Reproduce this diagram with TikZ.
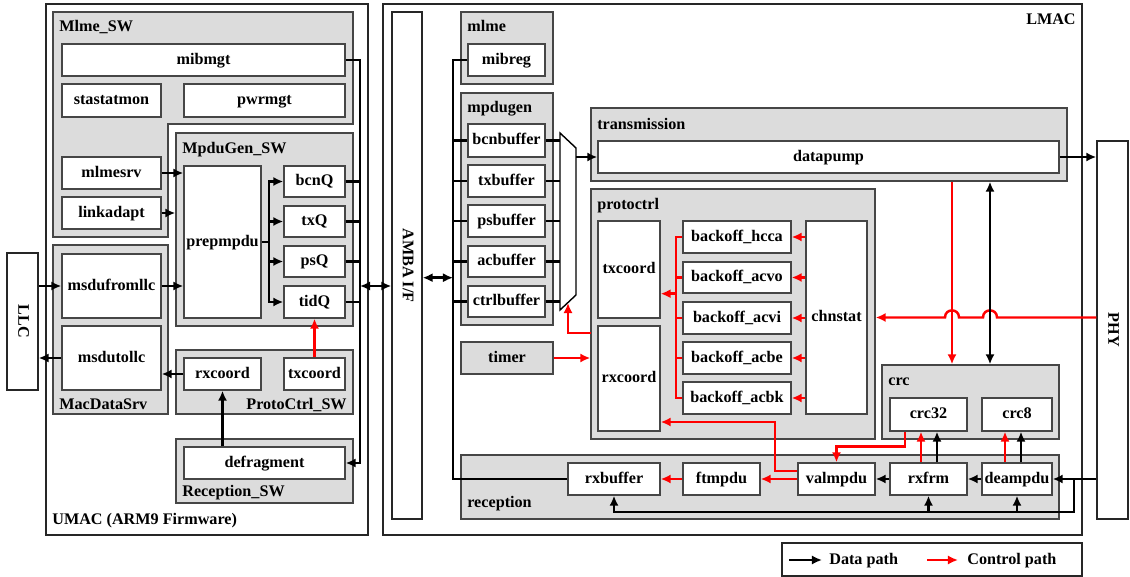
\documentclass[tikz,border=0pt]{standalone}
\usepackage{fontspec}
\setmainfont{Liberation Serif}
\usetikzlibrary{arrows.meta,fit,calc}
\definecolor{boxgray}{RGB}{220,220,220}
\definecolor{edgegray}{RGB}{70,70,70}
\definecolor{ctrlred}{RGB}{255,0,0}
\tikzset{
  txt/.style={font=\fontsize{9.2}{11}\selectfont\bfseries, inner sep=0pt},
  lab/.style={txt, text height=0.68em, text depth=0.2em},
  gbox/.style={draw=edgegray, fill=boxgray, line width=0.8pt, inner sep=0pt},
  wbox/.style={draw=edgegray, fill=white, line width=0.8pt, inner sep=0pt},
  obox/.style={draw=black!85, fill=white, line width=0.8pt, inner sep=0pt},
  conn/.style={draw=black, line width=1.4pt},
  data/.style={conn, -{Latex[length=5.7pt,width=5.2pt]}},
  ddata/.style={conn, {Latex[length=5.7pt,width=5.2pt]}-{Latex[length=5.7pt,width=5.2pt]}},
  cline/.style={draw=ctrlred, line width=1.4pt},
  ctrl/.style={cline, -{Latex[length=5.7pt,width=5.2pt]}},
}
\begin{document}
\begin{tikzpicture}[x=0.02cm,y=-0.02cm]
\useasboundingbox (0,0) rectangle (1130,577);

% ================= UMAC =================
\node[obox, fit={(46,4)(368,535)}] (umac) {};
\node[txt, anchor=base west] (umaclbl) at (52,525) {UMAC (ARM9 Firmware)};

\draw[gbox] (53,12) -- (353,12) -- (353,124) -- (168,124) -- (168,237) -- (53,237) -- cycle;
\node[txt, anchor=base west] (mlmeswlbl) at (59,32) {Mlme\_SW};
\node[wbox, fit={(62,44)(345,76)}, label={[lab]center:mibmgt}] (mibmgt) {};
\node[wbox, fit={(62,84)(161,117)}, label={[lab]center:stastatmon}] (stastatmon) {};
\node[wbox, fit={(184,84)(345,117)}, label={[lab]center:pwrmgt}] (pwrmgt) {};
\node[wbox, fit={(62,157)(161,189)}, label={[lab]center:mlmesrv}] (mlmesrv) {};
\node[wbox, fit={(62,197)(161,229)}, label={[lab]center:linkadapt}] (linkadapt) {};

\node[gbox, fit={(176,133)(353,326)}] (mpdugensw) {};
\node[txt, anchor=base west] (mpdugenswlbl) at (182,154) {MpduGen\_SW};
\node[wbox, fit={(184,166)(261,318)}, label={[lab]center:prepmpdu}] (prepmpdu) {};
\node[wbox, fit={(284,166)(345,197)}, label={[lab]center:bcnQ}] (bcnQ) {};
\node[wbox, fit={(284,206)(345,237)}, label={[lab]center:txQ}] (txQ) {};
\node[wbox, fit={(284,246)(345,277)}, label={[lab]center:psQ}] (psQ) {};
\node[wbox, fit={(284,286)(345,318)}, label={[lab]center:tidQ}] (tidQ) {};

\node[gbox, fit={(53,245)(168,414)}] (macdatasrv) {};
\node[txt, anchor=base west] (macdatalbl) at (59,410) {MacDataSrv};
\node[wbox, fit={(62,254)(161,318)}, label={[lab]center:msdufromllc}] (msdufromllc) {};
\node[wbox, fit={(62,326)(161,390)}, label={[lab]center:msdutollc}] (msdutollc) {};

\node[gbox, fit={(176,350)(353,414)}] (protoctrlsw) {};
\node[txt, anchor=base east] (protoctrlswlbl) at (347,410) {ProtoCtrl\_SW};
\node[wbox, fit={(184,358)(261,390)}, label={[lab]center:rxcoord}] (rxcoordsw) {};
\node[wbox, fit={(284,358)(345,390)}, label={[lab]center:txcoord}] (txcoordsw) {};

\node[gbox, fit={(176,439)(353,503)}] (receptionsw) {};
\node[txt, anchor=base west] (receptionswlbl) at (182,497) {Reception\_SW};
\node[wbox, fit={(184,447)(345,479)}, label={[lab]center:defragment}] (defragment) {};

\node[obox, fit={(7,253)(38,390)}] (llc) {};
\node[lab, rotate=-90] (llclbl) at (llc.center) {LLC};

% ================= LMAC =================
\node[obox, fit={(383,4)(1082,535)}] (lmac) {};
\node[txt, anchor=base east] (lmaclbl) at (1076,25) {LMAC};
\node[obox, fit={(392,12)(422,519)}] (amba) {};
\node[lab, rotate=-90] (ambalbl) at (amba.center) {AMBA I/F};

\node[gbox, fit={(461,12)(553,84)}] (mlme) {};
\node[txt, anchor=base west] (mlmelbl) at (467,32) {mlme};
\node[wbox, fit={(468,44)(545,76)}, label={[lab]center:mibreg}] (mibreg) {};

\node[gbox, fit={(461,93)(553,325)}] (mpdugen) {};
\node[txt, anchor=base west] (mpdugenlbl) at (467,113) {mpdugen};
\node[wbox, fit={(468,124)(545,157)}, label={[lab]center:bcnbuffer}] (bcnbuffer) {};
\node[wbox, fit={(468,165)(545,197)}, label={[lab]center:txbuffer}] (txbuffer) {};
\node[wbox, fit={(468,205)(545,237)}, label={[lab]center:psbuffer}] (psbuffer) {};
\node[wbox, fit={(468,246)(545,277)}, label={[lab]center:acbuffer}] (acbuffer) {};
\node[wbox, fit={(468,286)(545,317)}, label={[lab]center:ctrlbuffer}] (ctrlbuffer) {};

\node[gbox, fit={(461,342)(553,374)}, label={[lab]center:timer}] (timer) {};

\draw[draw=black, line width=0.8pt, fill=white] (560,133) -- (576,148) -- (576,295) -- (560,310) -- cycle;

\node[gbox, fit={(591,108)(1067,181)}] (transmission) {};
\node[txt, anchor=base west] (transmissionlbl) at (597,130) {transmission};
\node[wbox, fit={(598,141)(1059,173)}, label={[lab]center:datapump}] (datapump) {};

\node[gbox, fit={(591,189)(875,439)}] (protoctrl) {};
\node[txt, anchor=base west] (protoctrllbl) at (597,210) {protoctrl};
\node[wbox, fit={(598,221)(660,318)}, label={[lab]center:txcoord}] (txcoord) {};
\node[wbox, fit={(598,326)(660,431)}, label={[lab]center:rxcoord}] (rxcoord) {};
\node[wbox, fit={(683,221)(791,253)}, label={[lab]center:backoff\_hcca}] (bohcca) {};
\node[wbox, fit={(683,262)(791,293)}, label={[lab]center:backoff\_acvo}] (boacvo) {};
\node[wbox, fit={(683,302)(791,334)}, label={[lab]center:backoff\_acvi}] (boacvi) {};
\node[wbox, fit={(683,342)(791,374)}, label={[lab]center:backoff\_acbe}] (boacbe) {};
\node[wbox, fit={(683,382)(791,414)}, label={[lab]center:backoff\_acbk}] (boacbk) {};
\node[wbox, fit={(806,221)(867,414)}, label={[lab]center:chnstat}] (chnstat) {};

\node[gbox, fit={(882,365)(1059,439)}] (crc) {};
\node[txt, anchor=base west] (crclbl) at (888,386) {crc};
\node[wbox, fit={(890,398)(967,431)}, label={[lab]center:crc32}] (crc32) {};
\node[wbox, fit={(982,398)(1052,431)}, label={[lab]center:crc8}] (crc8) {};

\node[gbox, fit={(461,455)(1059,519)}] (reception) {};
\node[txt, anchor=base west] (receptionlbl) at (467,508) {reception};
\node[wbox, fit={(568,463)(660,495)}, label={[lab]center:rxbuffer}] (rxbuffer) {};
\node[wbox, fit={(683,463)(760,495)}, label={[lab]center:ftmpdu}] (ftmpdu) {};
\node[wbox, fit={(798,463)(875,495)}, label={[lab]center:valmpdu}] (valmpdu) {};
\node[wbox, fit={(890,463)(967,495)}, label={[lab]center:rxfrm}] (rxfrm) {};
\node[wbox, fit={(982,463)(1052,495)}, label={[lab]center:deampdu}] (deampdu) {};

\node[obox, fit={(1097,141)(1128,519)}] (phy) {};
\node[lab, rotate=-90] (phylbl) at (phy.center) {PHY};

% ================= coordinates =================
\coordinate (pbus) at (269,242);
\coordinate (rbus) at (360,60);
\coordinate (lbus) at (453,60);
\coordinate (muxL) at (560,0);
\coordinate (muxR) at (576,0);
\coordinate (muxbot) at (568,303);
\coordinate (pcw) at (591,333);
\coordinate (rb) at (676,0);
\coordinate (v1) at (952,0);
\coordinate (v2) at (990,0);
\coordinate (jn) at (1074,479);
\coordinate (bb) at (1074,512);

% ================= UMAC connectors =================
\draw[data] (llc.east |- msdufromllc.west) -- (msdufromllc.west);
\draw[data] (msdufromllc.east) -- (prepmpdu.west |- msdufromllc.east);
\draw[data] (msdutollc.west) -- (llc.east |- msdutollc.west);
\draw[data] (mlmesrv.east) -- (prepmpdu.west |- mlmesrv.east);
\draw[data] (linkadapt.east) -- (mpdugensw.west |- linkadapt.east);
\draw[conn] (prepmpdu.east |- pbus) -- (pbus);
\draw[data] (pbus) |- (bcnQ.west);
\draw[data] (pbus) |- (txQ.west);
\draw[data] (pbus) |- (psQ.west);
\draw[data] (pbus) |- (tidQ.west);
\draw[data] (mibmgt.east |- rbus) -- (rbus) -- (rbus |- defragment.east) -- (defragment.east);
\draw[conn] (bcnQ.east) -- (rbus |- bcnQ.east);
\draw[conn] (txQ.east) -- (rbus |- txQ.east);
\draw[conn] (psQ.east) -- (rbus |- psQ.east);
\draw[conn] (tidQ.east) -- (rbus |- tidQ.east);
\draw[ddata] (rbus |- msdufromllc.east) -- (amba.west |- msdufromllc.east);
\draw[data] (rxcoordsw.west) -- (msdutollc.east |- rxcoordsw.west);
\draw[data] (defragment.north -| rxcoordsw.south) -- (rxcoordsw.south);
\draw[ctrl] (txcoordsw.north) -- (tidQ.south);

% ================= LMAC connectors =================
\draw[ddata] (amba.east |- acbuffer.south) -- (lbus |- acbuffer.south);
\draw[conn] (mibreg.west |- lbus) -- (lbus) -- (lbus |- rxbuffer.west) -- (rxbuffer.west);
\foreach \b in {bcnbuffer,txbuffer,psbuffer,acbuffer,ctrlbuffer}{
  \draw[conn] (lbus |- \b.west) -- (\b.west);
  \draw[conn] (\b.east) -- (muxL |- \b.east);
}
\draw[data] (muxR |- datapump.west) -- (datapump.west);
\draw[data] (datapump.east) -- (phy.west |- datapump.east);
\draw[ctrl] (pcw) -| (muxbot);
\draw[ctrl] (timer.east) -- (protoctrl.west |- timer.east);
\foreach \b in {bohcca,boacvo,boacvi,boacbe,boacbk}{
  \draw[ctrl] (chnstat.west |- \b.east) -- (\b.east);
}
\draw[cline] (bohcca.west) -- (rb |- bohcca.west) -- (rb |- boacbk.west) -- (boacbk.west);
\draw[cline] (boacvo.west) -- (rb |- boacvo.west);
\draw[cline] (boacvi.west) -- (rb |- boacvi.west);
\draw[cline] (boacbe.west) -- (rb |- boacbe.west);
\draw[ctrl] (rb |- boacvo.south) -- (txcoord.east |- boacvo.south);
\draw[ctrl] (phy.west |- chnstat.east) -- (997,317.5) .. controls (997,308) and (983,308) .. (983,317.5)
  -- (959,317.5) .. controls (959,308) and (945,308) .. (945,317.5) -- (protoctrl.east |- chnstat.east);
\draw[ctrl] (v1 |- transmission.south) -- (v1 |- crc.north);
\draw[ddata] (v2 |- transmission.south) -- (v2 |- crc.north);

\draw[data] (deampdu.west) -- (rxfrm.east);
\draw[data] (rxfrm.west) -- (valmpdu.east);
\draw[ctrl] (valmpdu.west) -- (ftmpdu.east);
\draw[ctrl] (ftmpdu.west) -- (rxbuffer.east);
\draw[data] (phy.west |- deampdu.east) -- (deampdu.east);
\draw[data] (jn) |- (rxbuffer.south |- bb) -- (rxbuffer.south);
\draw[data] (rxfrm.south |- bb) -- (rxfrm.south);
\draw[data] (deampdu.south |- bb) -- (deampdu.south);
\draw[data] ($(rxfrm.north)+(8.5,0)$) -- ($(crc32.south)+(8.5,0)$);
\draw[ctrl] ($(rxfrm.north)+(-7.5,0)$) -- ($(crc32.south)+(-7.5,0)$);
\draw[data] ($(deampdu.north)+(4,0)$) -- ($(crc8.south)+(4,0)$);
\draw[ctrl] ($(deampdu.north)+(-12,0)$) -- ($(crc8.south)+(-12,0)$);
\draw[ctrl] ($(crc32.south)+(-23.5,0)$) |- ($(valmpdu.north)+(0,-16)$) -- (valmpdu.north);
\draw[ctrl] ($(valmpdu.west)+(0,-8)$) -| (775,422) -- (rxcoord.east |- 0,422);

% ================= legend =================
\node[obox, fit={(782,543)(1082,576)}] (legend) {};
\coordinate (l1a) at (789,560);
\coordinate (l1b) at (822,560);
\coordinate (l2a) at (927,560);
\coordinate (l2b) at (958,560);
\draw[data] (l1a) -- (l1b);
\node[lab, anchor=west] (ldata) at (829,560) {Data path};
\draw[ctrl] (l2a) -- (l2b);
\node[lab, anchor=west] (lctrl) at (967,560) {Control path};
\end{tikzpicture}
\end{document}
